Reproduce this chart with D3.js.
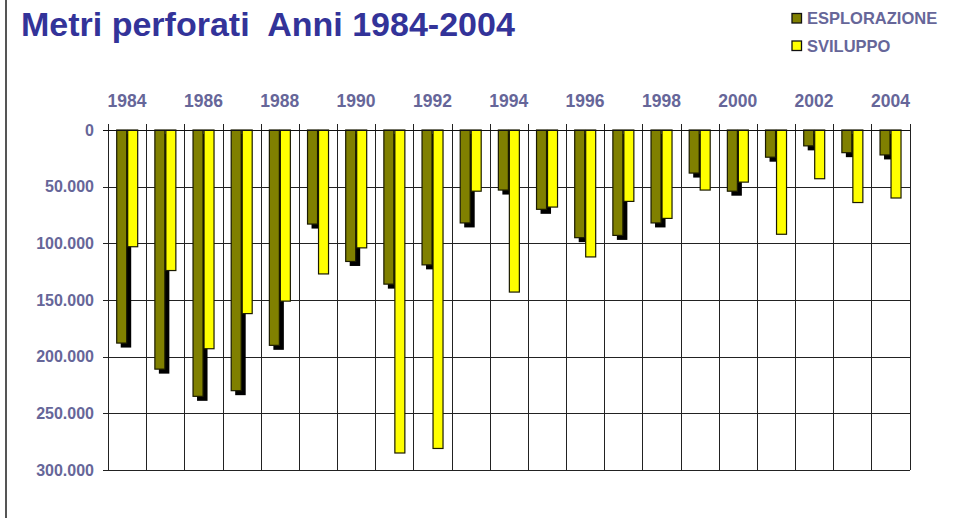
<!DOCTYPE html>
<html>
<head>
<meta charset="utf-8">
<script src="https://cdn.jsdelivr.net/npm/d3@7"></script>
<style>
  html, body { margin: 0; padding: 0; background: #fff; }
  svg { display: block; }
  text { font-family: Arial, "Liberation Sans", sans-serif; font-weight: bold; white-space: pre; }
</style>
</head>
<body>
<svg id="chart" width="967" height="518"></svg>
<script>
const years = ["1984","1985","1986","1987","1988","1989","1990","1991","1992","1993","1994",
               "1995","1996","1997","1998","1999","2000","2001","2002","2003","2004"];
const esplorazione = [188000, 211000, 235000, 230000, 190000, 83000, 116000, 136000, 119000, 82000, 53000,
                      70000, 95000, 93000, 82000, 38000, 54000, 24000, 14000, 20000, 22000];
const sviluppo = [103000, 124000, 193000, 162000, 151000, 127000, 104000, 285000, 281000, 54000, 143000,
                  68000, 112000, 63000, 78000, 53000, 46000, 92000, 43000, 64000, 60000];
const yearLabels = ["1984","1986","1988","1990","1992","1994","1996","1998","2000","2002","2004"];
const yTicks = [0, 50000, 100000, 150000, 200000, 250000, 300000];
const seriesNames = ["ESPLORAZIONE", "SVILUPPO"];
const seriesColors = ["#808000", "#FFFF00"];
const title = "Metri perforati  Anni 1984-2004";

(function () {
const svg = d3.select("#chart");
const mLeft = 108, mRight = 909.5, mTop = 130, mBottom = 470;

const x = d3.scaleBand().domain(years).range([mLeft, mRight]).padding(0);
const bw = x.bandwidth();
const x1 = d3.scaleBand().domain(seriesNames).range([0.228 * bw, 0.778 * bw]).padding(0);
const y = d3.scaleLinear().domain([0, 300000]).range([mTop, mBottom]);

const itLocale = d3.formatLocale({ decimal: ",", thousands: ".", grouping: [3], currency: ["€", ""] });
const fmt = itLocale.format(",");

// left frame line
svg.append("line").attr("x1", 6).attr("x2", 6).attr("y1", 0).attr("y2", 518)
  .attr("stroke", "#555").attr("stroke-width", 2);

// title
svg.append("text").attr("x", 21).attr("y", 36).attr("font-size", 34)
  .attr("xml:space", "preserve")
  .attr("fill", "#333399").text(title);

// legend
const leg = svg.append("g");
seriesNames.forEach((name, i) => {
  const gy = 13.5 + i * 27.5;
  leg.append("rect").attr("x", 792).attr("y", gy).attr("width", 9.5).attr("height", 9.5)
    .attr("fill", seriesColors[i]).attr("stroke", "#111").attr("stroke-width", 1.3);
  leg.append("text").attr("x", 807).attr("y", gy + 10.5).attr("font-size", 16.5)
    .attr("fill", "#666699").text(name);
});

// grid: horizontal lines + left ticks
const grid = svg.append("g").attr("shape-rendering", "crispEdges");
grid.selectAll("line.h").data(yTicks).join("line").attr("class", "h")
  .attr("x1", mLeft - 5).attr("x2", mRight)
  .attr("y1", d => Math.round(y(d)) + 0.5).attr("y2", d => Math.round(y(d)) + 0.5)
  .attr("stroke", "#222").attr("stroke-width", 1);

// vertical band boundaries
const bounds = years.map(d => x(d)).concat([mRight]);
grid.selectAll("line.v").data(bounds).join("line").attr("class", "v")
  .attr("x1", d => Math.round(d) + 0.5).attr("x2", d => Math.round(d) + 0.5)
  .attr("y1", mTop - 6).attr("y2", mBottom)
  .attr("stroke", "#222").attr("stroke-width", 1);

// y axis labels
svg.append("g").selectAll("text").data(yTicks).join("text")
  .attr("x", 94).attr("y", d => y(d)).attr("dy", "0.36em")
  .attr("text-anchor", "end").attr("font-size", 16).attr("fill", "#666699")
  .text(d => fmt(d));

// year labels on top
svg.append("g").selectAll("text").data(yearLabels).join("text")
  .attr("x", d => x(d) + bw / 2).attr("y", 106.5)
  .attr("text-anchor", "middle").attr("font-size", 17.5).attr("fill", "#666699")
  .text(d => d);

// bars
const bars = svg.append("g");
const expData = years.map((yr, i) => ({ yr, v: esplorazione[i] }));
const svData = years.map((yr, i) => ({ yr, v: sviluppo[i] }));

// shadows of the exploration bars
bars.selectAll("rect.sh").data(expData).join("rect").attr("class", "sh")
  .attr("x", d => x(d.yr) + x1("ESPLORAZIONE") + 4)
  .attr("y", y(0) + 4)
  .attr("width", x1.bandwidth())
  .attr("height", d => y(d.v) - y(0) + 0.5)
  .attr("fill", "#000");

bars.selectAll("rect.e").data(expData).join("rect").attr("class", "e")
  .attr("x", d => x(d.yr) + x1("ESPLORAZIONE"))
  .attr("y", y(0))
  .attr("width", x1.bandwidth() - 0.5)
  .attr("height", d => y(d.v) - y(0))
  .attr("fill", seriesColors[0]).attr("stroke", "#1a1a00").attr("stroke-width", 1.2);

bars.selectAll("rect.s").data(svData).join("rect").attr("class", "s")
  .attr("x", d => x(d.yr) + x1("SVILUPPO") + 0.5)
  .attr("y", y(0))
  .attr("width", x1.bandwidth() - 0.5)
  .attr("height", d => y(d.v) - y(0))
  .attr("fill", seriesColors[1]).attr("stroke", "#1a1a00").attr("stroke-width", 1.2);

// redraw zero line on top
svg.append("line").attr("x1", mLeft - 5).attr("x2", mRight)
  .attr("y1", Math.round(y(0)) + 0.5).attr("y2", Math.round(y(0)) + 0.5)
  .attr("stroke", "#111").attr("stroke-width", 1).attr("shape-rendering", "crispEdges");
})();
</script>
</body>
</html>
